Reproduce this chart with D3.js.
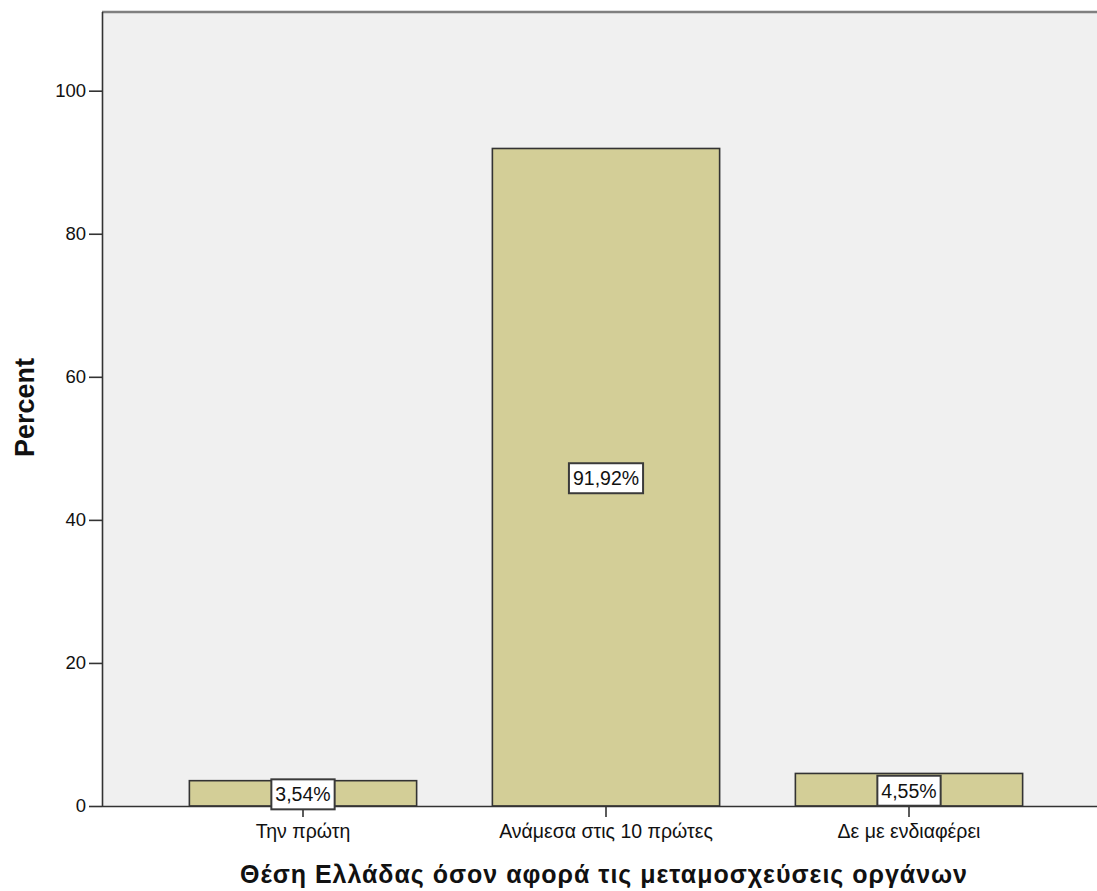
<!DOCTYPE html>
<html>
<head>
<meta charset="utf-8">
<script src="https://cdn.jsdelivr.net/npm/d3@7"></script>
<style>
  html, body { margin: 0; padding: 0; background: #ffffff; }
  svg { display: block; }
  text { font-family: "Liberation Sans", Arial, sans-serif; fill: #111; }
</style>
</head>
<body>
<svg id="chart" width="1097" height="891"></svg>
<script>
// Category labels and percentages
const categories = ["Την πρώτη", "Ανάμεσα στις 10 πρώτες", "Δε με ενδιαφέρει"];
const percents = [3.54, 91.92, 4.55];
const valueLabels = ["3,54%", "91,92%", "4,55%"];
const yTicks = [0, 20, 40, 60, 80, 100];
const yTitle = "Percent";
const xTitle = "Θέση Ελλάδας όσον αφορά τις μεταμοσχεύσεις οργάνων";

const W = 1097, H = 891;
const plot = { left: 102, top: 12, right: 1097, bottom: 806 };

const svg = d3.select("#chart");

const x = d3.scaleBand()
  .domain(categories)
  .range([151.5, 1060.5])
  .paddingInner(0.25)
  .paddingOuter(0.125);

const y = d3.scaleLinear()
  .domain([0, 111])
  .range([plot.bottom, plot.top]);

// Plot background
svg.append("rect")
  .attr("x", plot.left).attr("y", plot.top)
  .attr("width", plot.right - plot.left + 10)
  .attr("height", plot.bottom - plot.top)
  .attr("fill", "#f0f0f0");

// Top frame line
svg.append("line")
  .attr("x1", plot.left).attr("x2", plot.right)
  .attr("y1", plot.top).attr("y2", plot.top)
  .attr("stroke", "#808080").attr("stroke-width", 2.5);

// Bars
svg.append("g").selectAll("rect")
  .data(percents)
  .join("rect")
  .attr("x", (d, i) => x(categories[i]))
  .attr("y", d => y(d))
  .attr("width", x.bandwidth())
  .attr("height", d => y(0) - y(d))
  .attr("fill", "#d3ce97")
  .attr("stroke", "#333")
  .attr("stroke-width", 1.6);

// Y axis
const yAxis = svg.append("g")
  .attr("transform", `translate(${plot.left},0)`)
  .call(d3.axisLeft(y).tickValues(yTicks).tickSize(13).tickPadding(3).tickSizeOuter(0));
yAxis.select(".domain").attr("stroke", "#333").attr("stroke-width", 1.6)
  .attr("d", `M0.5,${plot.top}V${plot.bottom}`);
yAxis.selectAll(".tick line").attr("stroke", "#333").attr("stroke-width", 1.6);
yAxis.selectAll(".tick text")
  .attr("font-size", 18.5)
  .attr("font-family", "Liberation Sans, Arial, sans-serif")
  .attr("fill", "#111");

// X axis
const xAxis = svg.append("g")
  .attr("transform", `translate(0,${plot.bottom})`)
  .call(d3.axisBottom(x).tickSize(11).tickPadding(7).tickSizeOuter(0));
xAxis.select(".domain").attr("stroke", "#333").attr("stroke-width", 1.6)
  .attr("d", `M${plot.left},0.5H${plot.right}`);
xAxis.selectAll(".tick line").attr("stroke", "#333").attr("stroke-width", 1.6);
xAxis.selectAll(".tick text")
  .attr("font-size", 19.5)
  .attr("font-family", "Liberation Sans, Arial, sans-serif")
  .attr("fill", "#111");

// Value labels in boxes at the middle of each bar
const lab = svg.append("g").selectAll("g")
  .data(percents)
  .join("g")
  .attr("transform", (d, i) => `translate(${x(categories[i]) + x.bandwidth() / 2},${y(d / 2) + 1})`);

lab.append("text")
  .attr("text-anchor", "middle")
  .attr("dy", "0.36em")
  .attr("font-size", 19.5)
  .text((d, i) => valueLabels[i]);

lab.each(function () {
  const g = d3.select(this);
  const bb = g.select("text").node().getBBox();
  g.insert("rect", "text")
    .attr("x", bb.x - 4)
    .attr("y", -15)
    .attr("width", bb.width + 8)
    .attr("height", 30)
    .attr("fill", "#fff")
    .attr("stroke", "#3a3a3a")
    .attr("stroke-width", 2);
});

// Axis titles
svg.append("text")
  .attr("transform", `translate(34,407.5) rotate(-90)`)
  .attr("text-anchor", "middle")
  .attr("font-size", 27)
  .attr("font-weight", "bold")
  .text(yTitle);

svg.append("text")
  .attr("x", 603.5)
  .attr("y", 883)
  .attr("text-anchor", "middle")
  .attr("font-size", 25)
  .attr("font-weight", "bold")
  .attr("textLength", 727)
  .attr("lengthAdjust", "spacing")
  .text(xTitle);
</script>
</body>
</html>
